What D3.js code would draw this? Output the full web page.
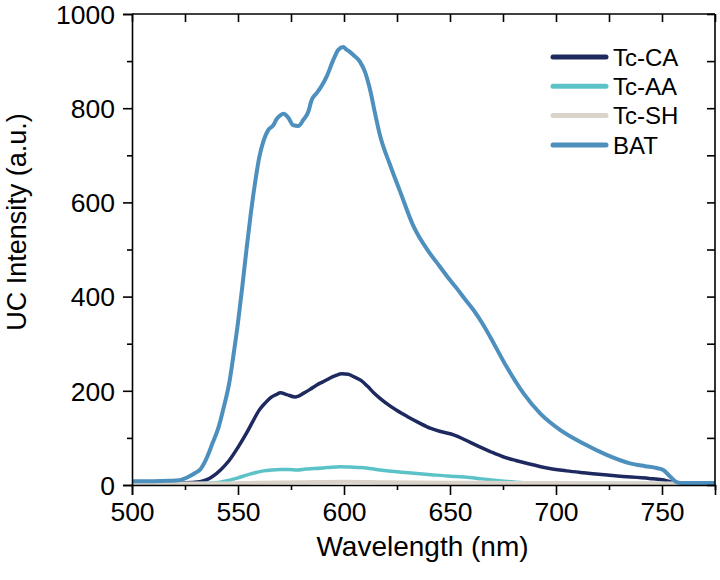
<!DOCTYPE html>
<html><head><meta charset="utf-8">
<script src="https://cdn.jsdelivr.net/npm/d3@7"></script>
<style>body{margin:0;background:#fff}svg{display:block}text{font-family:"Liberation Sans",Arial,sans-serif;fill:#000}</style>
</head><body>
<script>
const seriesNames = ["Tc-CA","Tc-AA","Tc-SH","BAT"];
const seriesColors = ["#1e2a5f","#5bc3c8","#d9d3c9","#4d8fbd"];

const batX = [500,510,518,522,526,530,532,535,538,541,543,546,548,550,552,554,556,558,560,562,564.3,566.7,568.2,570,571.4,573.7,576,578.4,580.8,583.2,584.7,587.1,588.7,591.8,595,597.3,599.7,601,602,604.4,607.5,609.9,612.3,614.6,617,621.7,626.4,632.7,640,645,650,653.1,657,661,665,668.9,676.7,684.6,692.5,701.9,712.9,723.9,734.9,742,747.5,750.6,753.8,756.9,760,775];
const batY = [8,8,9,10,16,26,32,55,89,125,160,220,280,345,420,500,575,640,695,730,754,764,777,785,788,780,764,762,775,793,817,832,842,867,903,924,930,925,922,913,899,877,839,790,742,680,624,550,495,465,435,418,395,372,345,315,251,195,152,117,88,64,46,40,36,32,18,6,4,4];

const caX = [500,520,525,532,538,542,546,550,554,557,560,563,565,568,570,573,577,581,584,587,590,593,596,599,602,605,608,611,614,617,621,625,630,635,641,646,652,657,663,669,675,681,687,697,705,713,729,744,750,753,757,775];
const caY = [5,5,5,7,18,33,53,80,110,135,159,175,184,192,196,192,187,195,203,212,219,226,232,236,235,229,222,210,196,184,170,158,145,133,120,113,106,96,83,71,60,52,45,35,30,26,19,14,11,8,4,4];

const aaX = [500,530,538,546,550,554,558,562,566,570,574,578,582,586,592,598,603,608,612,617,625,633,641,649,657,665,673,681,690,700,775];
const aaY = [3,3,4,10,15,21,26,30,32,33,33,32,34,35,37,39,38,37,35,32,28,25,22,19,17,13,9,6,4,3,3];

const shX = [500,540,560,580,600,620,650,700,750,775];
const shY = [3,3,5,6,7,6,5,4,3,3];

const xTicks = [500,550,600,650,700,750];
const xMinor = [525,575,625,675,725,775];
const yTicks = [0,200,400,600,800,1000];
const yMinor = [100,300,500,700,900];

const W = 720, H = 580;
const m = {l:132, r:715, t:14, b:485};
const svg = d3.select("body").append("svg").attr("width",W).attr("height",H);
const x = d3.scaleLinear().domain([500,775]).range([m.l,m.r]);
const y = d3.scaleLinear().domain([0,1000]).range([m.b,m.t]);

const series = [
  {name:seriesNames[0], color:seriesColors[0], xs:caX, ys:caY, w:3.5},
  {name:seriesNames[1], color:seriesColors[1], xs:aaX, ys:aaY, w:3.5},
  {name:seriesNames[2], color:seriesColors[2], xs:shX, ys:shY, w:4},
  {name:seriesNames[3], color:seriesColors[3], xs:batX, ys:batY, w:4}
];
const line = d3.line().x(d=>x(d[0])).y(d=>y(d[1])).curve(d3.curveMonotoneX);
const g = svg.append("g");
g.append("defs").append("clipPath").attr("id","clip").append("rect")
  .attr("x",m.l).attr("y",m.t-5).attr("width",m.r-m.l).attr("height",m.b-m.t+5);
series.forEach(s=>{
  g.append("path").datum(s.xs.map((v,i)=>[v,s.ys[i]]))
   .attr("d",line).attr("fill","none").attr("stroke",s.color)
   .attr("stroke-width",s.w).attr("stroke-linejoin","round").attr("clip-path","url(#clip)");
});

// axes
const xAxis = svg.append("g").attr("transform",`translate(0,${m.b})`)
  .call(d3.axisBottom(x).tickValues(xTicks).tickSize(10).tickFormat(d3.format("d")));
const xAxisMinor = svg.append("g").attr("transform",`translate(0,${m.b})`)
  .call(d3.axisBottom(x).tickValues(xMinor).tickSize(5).tickFormat(""));
const yAxis = svg.append("g").attr("transform",`translate(${m.l},0)`)
  .call(d3.axisLeft(y).tickValues(yTicks).tickSize(9).tickFormat(d3.format("d")));
const yAxisMinor = svg.append("g").attr("transform",`translate(${m.l},0)`)
  .call(d3.axisLeft(y).tickValues(yMinor).tickSize(5).tickFormat(""));
const yRight = svg.append("g").attr("transform",`translate(${m.r},0)`)
  .call(d3.axisLeft(y).tickValues(yTicks.concat(yMinor)).tickSize(8).tickFormat(""));
const xTop = svg.append("g").attr("transform",`translate(0,${m.t})`)
  .call(d3.axisBottom(x).tickValues(xTicks.concat(xMinor)).tickSize(8).tickFormat(""));
[xAxis,xAxisMinor,yAxis,yAxisMinor,yRight,xTop].forEach(a=>{
  a.selectAll("path").attr("stroke","#000").attr("stroke-width",1.6);
  a.selectAll("line").attr("stroke","#000").attr("stroke-width",1.6);
});
xAxisMinor.select(".domain").remove();
yAxisMinor.select(".domain").remove();
yRight.select(".domain").remove();
xTop.select(".domain").remove();
svg.append("line").attr("x1",m.l).attr("x2",m.r).attr("y1",m.t).attr("y2",m.t).attr("stroke","#000").attr("stroke-width",1.6);
svg.append("line").attr("x1",m.r).attr("x2",m.r).attr("y1",m.t).attr("y2",m.b).attr("stroke","#000").attr("stroke-width",1.6);

xAxis.selectAll("text").attr("font-size",26.5).attr("dy",0).attr("y",36).attr("fill","#000").style("font-family","Liberation Sans, Arial");
yAxis.selectAll("text").attr("font-size",26.5).attr("x",-17).attr("dy","0.35em").attr("fill","#000").style("font-family","Liberation Sans, Arial");

svg.append("text").attr("x",(m.l+m.r)/2 - 1).attr("y",556).attr("text-anchor","middle")
  .attr("font-size",28).text("Wavelength (nm)");
svg.append("text").attr("transform","translate(26,222) rotate(-90)").attr("text-anchor","middle")
  .attr("font-size",27).text("UC Intensity (a.u.)");

// legend
const leg = svg.append("g");
series.forEach((s,i)=>{
  const yy = 57 + i*29.3;
  leg.append("line").attr("x1",553).attr("x2",606).attr("y1",yy).attr("y2",yy)
    .attr("stroke",s.color).attr("stroke-width",5).attr("stroke-linecap","round");
  leg.append("text").attr("x",613).attr("y",yy).attr("dy","0.36em").attr("font-size",24).text(s.name);
});
</script>
</body></html>
